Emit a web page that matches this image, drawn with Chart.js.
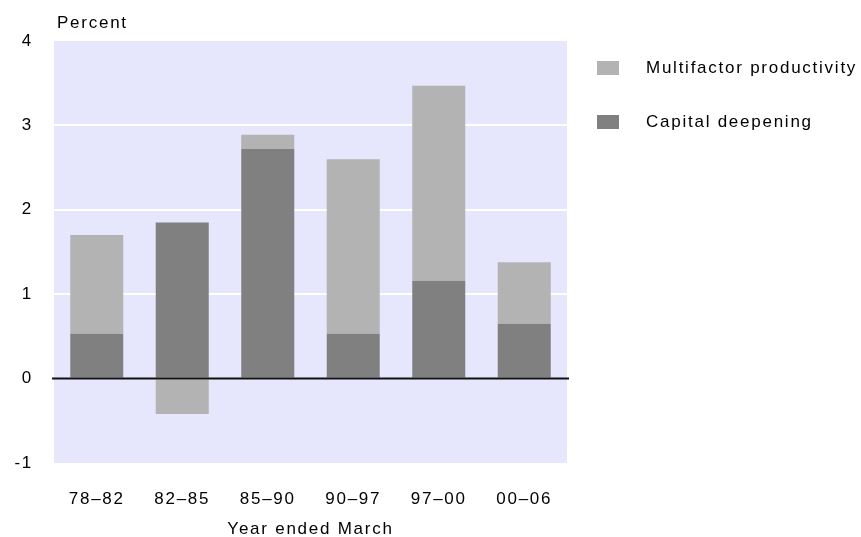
<!DOCTYPE html>
<html>
<head>
<meta charset="utf-8">
<script src="https://cdn.jsdelivr.net/npm/chart.js"></script>
<style>
    html, body { margin: 0; padding: 0; background: #ffffff; }
    canvas { display: block; }
</style>
</head>
<body>
<canvas id="chart" width="861" height="537"></canvas>
<script>
// Dados (percentual, ano encerrado em março)
const periods = ["78–82", "82–85", "85–90", "90–97", "97–00", "00–06"];
const capitalDeepening = [0.53, 1.85, 2.72, 0.53, 1.16, 0.65];
const multifactorProductivity = [1.17, -0.42, 0.17, 2.07, 2.31, 0.73];
const yMin = -1;
const yMax = 4;

const FONT = { family: "'Liberation Sans', Arial, sans-serif", size: 17 };
const SPACING = "1.75px";
const plotBackground = "rgb(230, 230, 253)";

// Espaçamento entre letras (o canvas é reiniciado no resize, então reaplica)
const spacingPlugin = {
    id: "spacing",
    beforeLayout(chart) { chart.ctx.letterSpacing = SPACING; },
    beforeDraw(chart) { chart.ctx.letterSpacing = SPACING; }
};

// Fundo lilás da área do gráfico
const backgroundPlugin = {
    id: "plotBackground",
    beforeDraw(chart) {
        const { ctx, chartArea } = chart;
        ctx.save();
        ctx.fillStyle = plotBackground;
        ctx.fillRect(chartArea.left, chartArea.top, chartArea.right - chartArea.left, chartArea.bottom - chartArea.top);
        ctx.restore();
    }
};

// Linha do zero por cima das barras, título "Percent" e legenda à direita
const decorPlugin = {
    id: "decor",
    afterDatasetsDraw(chart) {
        const { ctx, chartArea, scales } = chart;
        const y0 = scales.y.getPixelForValue(0);
        ctx.save();
        ctx.strokeStyle = "#111111";
        ctx.lineWidth = 2;
        ctx.beginPath();
        ctx.moveTo(chartArea.left - 2, y0);
        ctx.lineTo(chartArea.right + 2, y0);
        ctx.stroke();
        ctx.restore();
    },
    afterDraw(chart) {
        const { ctx, chartArea } = chart;
        ctx.save();
        ctx.letterSpacing = SPACING;
        ctx.font = FONT.size + "px " + FONT.family;
        ctx.fillStyle = "#000000";
        ctx.textBaseline = "middle";
        ctx.textAlign = "left";
        ctx.fillText("Percent", chartArea.left + 3, chartArea.top - 18);

        // legenda na ordem inversa (produtividade em cima)
        const items = chart.data.datasets.slice().reverse();
        items.forEach((ds, i) => {
            const top = 61 + i * 54;
            ctx.fillStyle = ds.backgroundColor;
            ctx.fillRect(597, top, 22, 14);
            ctx.fillStyle = "#000000";
            ctx.fillText(ds.label, 646, top + 7);
        });
        ctx.restore();
    }
};

new Chart(document.getElementById("chart"), {
    type: "bar",
    data: {
        labels: periods,
        datasets: [
            {
                label: "Capital deepening",
                data: capitalDeepening,
                backgroundColor: "#808080",
                borderWidth: 0
            },
            {
                label: "Multifactor productivity",
                data: multifactorProductivity,
                backgroundColor: "#b3b3b3",
                borderWidth: 0
            }
        ]
    },
    options: {
        responsive: false,
        devicePixelRatio: 1,
        animation: false,
        layout: {
            padding: { top: 41, left: 0, right: 294, bottom: 0 }
        },
        datasets: {
            bar: { barPercentage: 0.62, categoryPercentage: 1 }
        },
        scales: {
            x: {
                stacked: true,
                grid: { display: false, drawTicks: false },
                border: { display: false },
                ticks: { color: "#000000", font: FONT, padding: 26, maxRotation: 0 },
                title: {
                    display: true,
                    text: "Year ended March",
                    color: "#000000",
                    font: FONT,
                    padding: { top: 0, bottom: -3 }
                },
                afterFit(scale) { scale.height = 74; }
            },
            y: {
                stacked: true,
                min: yMin,
                max: yMax,
                grid: {
                    drawTicks: false,
                    lineWidth: 2,
                    color: (c) => (c.tick && c.tick.value > 0 && c.tick.value < yMax ? "#ffffff" : "rgba(0,0,0,0)")
                },
                border: { display: false },
                ticks: { stepSize: 1, color: "#000000", font: FONT, padding: 21 },
                afterFit(scale) { scale.width = 54; }
            }
        },
        plugins: {
            legend: { display: false },
            tooltip: { enabled: false }
        }
    },
    plugins: [spacingPlugin, backgroundPlugin, decorPlugin]
});
</script>
</body>
</html>
